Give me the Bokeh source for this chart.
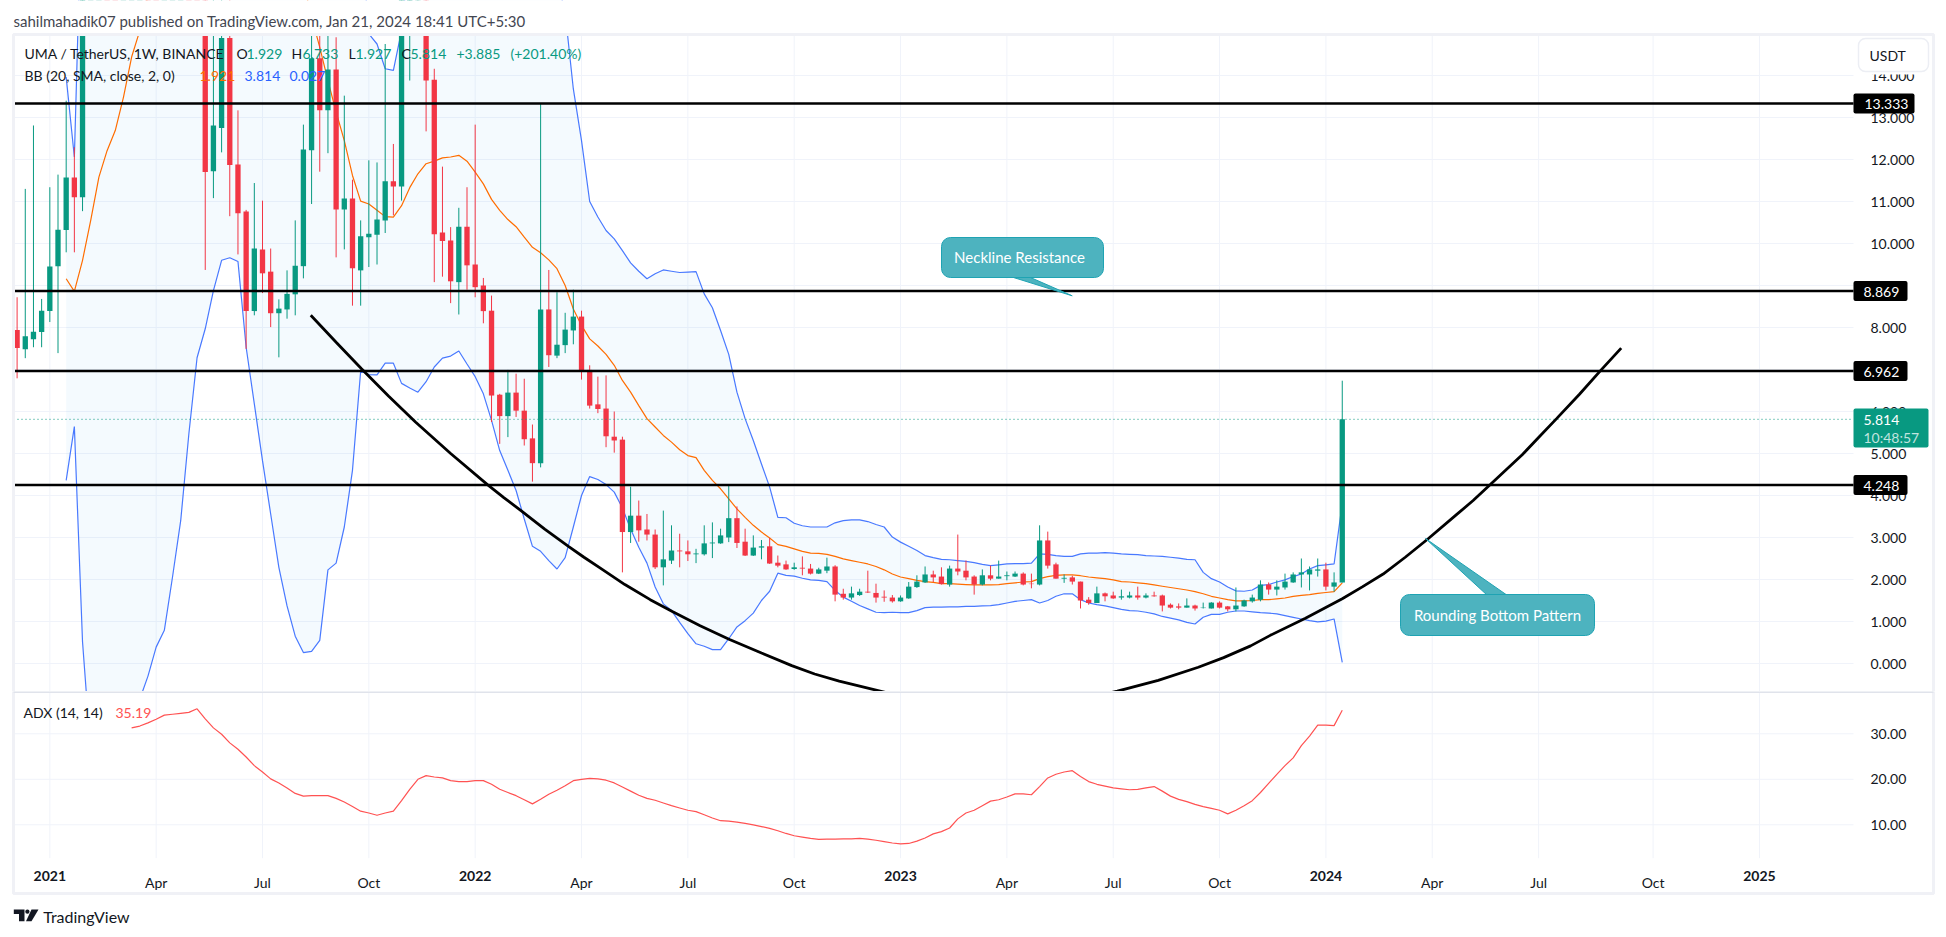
from bokeh.embed import file_html
from bokeh.layouts import column
from bokeh.models import (BoxAnnotation, ColumnDataSource, FixedTicker, Label,
                          NumeralTickFormatter, PolyAnnotation, Range1d)
from bokeh.plotting import figure
from bokeh.resources import INLINE

# weekly candles, index 0 = Dec 2020, last = Jan 15 2024. 9-22 run far above the visible pane
opens = [7.94,7.48,7.72,7.89,8.39,9.46,10.32,11.57,11.10,19.0,
    23.5,27.0,24.6,21.5,23.8,26.2,28.4,25.9,22.3,24.1,
    27.5,29.6,26.4,22.1,11.72,12.75,14.89,11.88,10.76,8.39,
    9.86,9.33,8.34,8.43,8.79,9.46,12.22,14.41,13.17,14.14,
    10.81,11.07,9.36,10.15,10.21,10.55,11.48,11.36,15.5,17.0,
    17.5,13.90,10.26,10.07,9.08,10.40,9.50,9.00,8.40,6.40,
    5.89,6.45,6.02,5.36,4.77,8.43,7.33,7.58,7.93,8.26,
    6.99,6.17,6.07,5.40,5.33,3.13,3.52,3.19,3.07,2.29,
    2.45,2.69,2.67,2.60,2.60,2.86,2.86,3.00,3.46,2.90,
    2.57,2.76,2.79,2.40,2.36,2.25,2.28,2.26,2.14,2.21,
    2.31,1.66,1.57,1.63,1.71,1.68,1.59,1.57,1.48,1.55,
    1.82,1.93,2.12,2.07,1.88,2.26,2.21,2.07,1.88,2.10,
    2.02,2.08,2.07,2.14,1.90,1.88,2.93,2.36,2.02,2.05,
    1.95,1.52,1.44,1.67,1.62,1.57,1.57,1.62,1.57,1.62,
    1.62,1.40,1.36,1.33,1.38,1.32,1.31,1.45,1.36,1.29,
    1.36,1.48,1.52,1.88,1.76,1.81,1.93,2.12,2.12,2.21,
    2.24,1.83,1.929]
closes = [7.51,7.79,7.90,8.40,9.45,10.33,11.57,11.10,19.0,23.5,
    27.0,24.6,21.5,23.8,26.2,28.4,25.9,22.3,24.1,27.5,
    29.6,26.4,22.1,11.70,12.81,14.89,11.87,10.72,8.39,9.88,
    9.29,8.34,8.45,8.80,9.47,12.24,14.41,13.17,14.14,10.81,
    11.07,9.41,10.17,10.23,10.57,11.48,11.36,17.0,17.0,18.0,
    13.88,10.22,10.06,9.10,10.40,9.48,8.96,8.39,6.38,5.89,
    6.45,6.02,5.34,4.77,8.43,7.34,7.59,7.95,8.26,6.98,
    6.14,6.06,5.41,5.31,3.13,3.52,3.17,3.07,2.29,2.48,
    2.69,2.67,2.60,2.62,2.86,2.88,3.05,3.46,2.87,2.57,
    2.76,2.79,2.38,2.33,2.24,2.29,2.26,2.14,2.24,2.31,
    1.64,1.57,1.67,1.71,1.69,1.57,1.57,1.48,1.57,1.83,
    1.95,2.12,2.05,1.89,2.26,2.19,2.05,1.88,2.10,2.02,
    2.07,2.10,2.14,1.88,1.89,2.93,2.33,2.02,2.04,1.95,
    1.50,1.44,1.67,1.60,1.55,1.60,1.62,1.57,1.62,1.60,
    1.38,1.33,1.33,1.38,1.31,1.33,1.45,1.33,1.29,1.38,
    1.50,1.57,1.88,1.76,1.83,1.95,2.12,2.17,2.24,2.24,
    1.83,1.93,5.814]
highs = [8.72,11.30,12.81,8.68,11.34,11.64,13.40,12.29,21.5,25.0,
    28.5,28.6,25.8,25.0,27.5,30.0,29.5,26.8,25.5,28.8,
    31.0,30.5,27.5,23.5,16.0,16.5,16.0,13.17,10.80,11.44,
    11.02,9.88,8.67,9.36,10.55,12.83,15.5,15.5,15.3,14.91,
    13.52,11.52,10.55,11.98,11.93,14.75,12.37,19.0,18.0,19.0,
    18.0,14.16,11.83,10.39,10.85,11.34,12.83,9.18,8.76,6.42,
    6.99,6.90,6.78,5.69,13.33,9.37,8.84,8.35,8.90,8.40,
    7.10,6.83,6.86,6.00,5.40,4.21,3.88,3.56,3.19,3.64,
    3.29,3.09,2.93,2.73,3.29,3.36,3.21,4.24,3.74,3.21,
    3.05,2.94,2.99,2.57,2.45,2.40,2.55,2.37,2.28,2.52,
    2.34,1.78,1.83,1.78,2.21,1.90,1.74,1.63,1.62,1.94,
    2.10,2.31,2.21,2.29,2.33,3.07,2.45,2.10,2.24,2.33,
    2.45,2.19,2.19,2.17,2.14,3.29,3.14,2.40,2.12,2.09,
    1.95,1.58,1.83,1.69,1.71,1.76,1.71,1.83,1.67,1.71,
    1.64,1.43,1.43,1.55,1.40,1.45,1.46,1.48,1.37,1.81,
    1.52,1.64,1.98,1.93,1.98,2.14,2.17,2.50,2.31,2.50,
    2.40,2.17,6.733]
lows = [6.79,7.27,7.53,7.53,8.13,7.39,9.79,9.79,10.77,18.0,
    22.0,23.1,20.0,20.2,22.5,25.0,24.5,20.8,21.0,23.0,
    26.5,25.0,20.5,9.37,11.08,12.17,10.65,9.74,7.49,8.29,
    8.82,8.01,7.29,8.21,8.29,9.17,10.94,11.71,12.15,9.67,
    9.86,8.52,8.52,9.44,9.50,10.25,10.67,11.02,13.88,15.6,
    12.67,9.08,9.21,8.58,8.31,8.90,8.72,8.10,5.75,5.23,
    5.39,5.87,5.19,4.33,4.67,7.06,7.27,7.39,7.60,6.76,
    6.07,5.96,5.15,5.02,2.17,2.87,2.90,2.93,2.25,1.86,
    2.37,2.29,2.44,2.39,2.57,2.51,2.85,2.89,2.75,2.56,
    2.56,2.48,2.37,2.29,2.23,2.23,2.10,2.12,2.13,2.15,
    1.48,1.52,1.52,1.61,1.68,1.45,1.47,1.45,1.47,1.54,
    1.80,1.92,1.94,1.88,1.83,2.10,1.98,1.64,1.86,1.98,
    2.02,1.98,2.06,1.86,1.79,1.86,2.26,2.02,1.92,1.88,
    1.31,1.40,1.44,1.48,1.54,1.52,1.55,1.52,1.55,1.59,
    1.24,1.31,1.29,1.33,1.26,1.31,1.31,1.31,1.24,1.24,
    1.35,1.45,1.48,1.64,1.62,1.76,1.92,1.81,1.74,2.07,
    1.74,1.71,1.927]

# bollinger bands, from bar 6 on
bb_upper = [13.96,12.06,19.0,22.0,25.0,27.0,29.0,31.0,32.5,33.5,
    34.0,34.5,35.0,35.0,34.5,34.0,33.5,33.0,32.5,32.0,
    31.5,31.0,30.5,30.0,29.0,28.0,27.5,27.0,26.5,26.0,
    25.5,25.0,24.0,23.0,22.0,20.0,17.5,14.99,14.75,14.16,
    14.12,15.07,17.0,18.0,18.5,19.0,19.2,19.5,19.6,19.6,
    19.5,19.3,19.0,18.8,18.5,18.2,18.0,17.8,17.5,17.0,
    16.3,15.5,13.68,12.45,11.0,10.63,10.31,10.11,9.83,9.54,
    9.34,9.16,9.28,9.37,9.34,9.31,9.32,9.33,8.80,8.47,
    7.93,7.36,6.46,5.83,5.31,4.75,4.20,3.48,3.47,3.34,
    3.28,3.25,3.25,3.25,3.35,3.40,3.42,3.42,3.38,3.31,
    3.25,3.01,2.89,2.79,2.69,2.57,2.52,2.48,2.47,2.45,
    2.43,2.40,2.36,2.33,2.35,2.37,2.38,2.38,2.39,2.61,
    2.60,2.57,2.55,2.55,2.61,2.63,2.63,2.64,2.63,2.61,
    2.60,2.59,2.57,2.56,2.55,2.53,2.51,2.48,2.47,2.17,
    2.02,1.94,1.82,1.73,1.72,1.75,1.86,1.88,1.94,1.99,
    2.07,2.13,2.25,2.33,2.35,2.37,3.814]
bb_basis = [9.16,8.86,9.60,10.55,11.58,12.21,12.69,13.48,14.44,15.07,
    15.9,16.8,17.6,18.4,19.1,19.7,20.2,20.6,20.9,21.1,
    21.2,21.1,20.8,20.3,19.7,19.0,18.3,17.6,16.9,16.2,
    15.4,14.67,13.88,13.13,12.45,11.62,11.01,10.94,10.79,10.64,
    10.63,10.90,11.33,11.66,11.90,11.96,12.04,12.06,12.10,11.96,
    11.70,11.42,11.05,10.79,10.57,10.40,10.15,9.91,9.78,9.61,
    9.40,9.00,8.44,8.05,7.73,7.56,7.36,7.10,6.74,6.46,
    6.14,5.83,5.63,5.43,5.27,5.09,4.95,4.90,4.60,4.36,
    4.16,3.92,3.68,3.48,3.29,3.13,2.99,2.83,2.79,2.73,
    2.67,2.63,2.62,2.60,2.55,2.49,2.45,2.41,2.37,2.31,
    2.23,2.13,2.06,2.02,1.98,1.95,1.93,1.90,1.90,1.89,
    1.88,1.87,1.87,1.87,1.88,1.90,1.92,1.94,1.95,2.02,
    2.07,2.10,2.11,2.11,2.09,2.06,2.04,2.02,1.99,1.95,
    1.94,1.92,1.90,1.87,1.84,1.81,1.78,1.75,1.71,1.66,
    1.60,1.56,1.52,1.49,1.49,1.50,1.52,1.52,1.54,1.56,
    1.60,1.62,1.64,1.67,1.69,1.71,1.921]
bb_lower = [4.36,5.64,0.51,-2.1,-4.5,-6.0,-7.0,-6.5,-4.0,-0.85,
    -0.30,0.39,0.79,2.06,3.40,5.47,7.28,7.97,8.88,9.60,
    9.66,9.57,7.53,6.18,4.83,3.56,2.29,1.37,0.65,0.26,
    0.29,0.55,2.23,2.39,3.25,4.60,6.96,6.88,6.87,7.15,
    7.15,6.67,6.56,6.46,6.71,7.06,7.27,7.32,7.44,7.13,
    6.83,6.42,5.79,5.07,4.60,4.12,3.44,2.79,2.67,2.45,
    2.25,2.52,3.25,4.00,4.45,4.38,4.26,4.08,3.70,3.20,
    2.77,2.39,1.82,1.42,1.26,0.98,0.71,0.47,0.41,0.33,
    0.33,0.59,0.87,1.02,1.20,1.50,1.72,2.15,2.10,2.08,
    2.03,1.99,1.98,1.95,1.74,1.58,1.48,1.38,1.30,1.22,
    1.21,1.22,1.21,1.21,1.26,1.33,1.34,1.34,1.35,1.35,
    1.36,1.36,1.37,1.38,1.40,1.44,1.48,1.50,1.52,1.44,
    1.50,1.60,1.66,1.66,1.52,1.44,1.40,1.37,1.33,1.29,
    1.26,1.25,1.22,1.18,1.12,1.08,1.04,0.98,0.94,1.10,
    1.17,1.17,1.22,1.25,1.25,1.23,1.21,1.20,1.18,1.14,
    1.10,1.06,1.02,0.99,1.01,1.06,0.027]

# adx, from bar 14 on
adx = [31.3,31.7,32.4,33.2,34.1,34.3,34.5,34.7,35.5,33.3,31.3,29.9,28.0,26.6,24.9,23.0,
    21.6,20.1,19.2,18.1,16.9,16.3,16.4,16.4,16.4,15.8,15.0,14.0,13.0,12.6,12.1,12.6,
    13.0,15.3,17.8,20.0,20.8,20.5,20.3,19.7,19.5,19.5,19.7,19.7,18.9,17.8,17.1,16.4,
    15.5,14.6,15.6,16.7,17.6,18.6,19.7,20.0,20.2,20.1,19.8,19.2,18.3,17.4,16.5,15.8,
    15.4,14.8,14.2,13.7,13.2,12.9,12.2,11.5,10.9,10.8,10.6,10.3,10.0,9.6,9.2,8.7,
    8.1,7.6,7.3,7.0,6.8,6.85,6.85,6.9,6.9,7.0,6.85,6.6,6.3,6.0,5.8,5.9,
    6.4,7.1,8.0,8.5,9.3,11.3,12.6,13.2,14.2,15.2,15.5,16.1,16.8,16.8,16.6,18.4,
    20.3,21.1,21.6,21.9,20.6,19.5,18.9,18.5,18.1,17.9,17.7,17.8,18.1,18.4,17.4,16.3,
    15.6,15.1,14.5,14.0,13.6,13.2,12.4,13.2,14.2,15.3,17.1,19.1,21.1,23.0,24.7,27.4,
    29.5,31.9,31.9,31.8,35.19]

# rounding bottom drawing, bar index and price
arc_bar = [35.9,39,42.1,45.4,48.7,53,57.5,59.5,61.6,64.5,67.4,69.3,71.3,74.3,77.4,80.1,83.5,87.1,91,94.7,97.5,
    100.5,106.4,113,120,127,134.5,139.5,144.4,147.5,150.8,153.2,157.5,162,164.5,167,169.7,172.5,176,178,180.1,
    184,186,188.2,191,193.6,196.1]
arc_price = [8.29,7.65,7.02,6.37,5.75,5.00,4.26,3.95,3.64,3.20,2.79,2.53,2.27,1.88,1.52,1.24,0.90,0.57,0.25,-0.05,-0.25,
    -0.42,-0.70,-0.98,-1.10,-0.98,-0.66,-0.40,-0.09,0.14,0.42,0.67,1.08,1.54,1.83,2.13,2.53,2.97,3.55,3.88,4.26,
    4.97,5.38,5.83,6.41,6.98,7.51]

levels = [13.333, 8.869, 6.962, 4.248]
level_names = ["13.333", "8.869", "6.962", "4.248"]
last_price = 5.814

price_ticks = [0, 1, 2, 3, 4, 5, 6, 7, 8, 9, 10, 11, 12, 13, 14]
adx_ticks = [10, 20, 30]
month_ticks = [17, 30, 43, 69, 82, 95, 121, 134, 147, 173, 186, 200]
month_names = ["Apr", "Jul", "Oct", "Apr", "Jul", "Oct", "Apr", "Jul", "Oct", "Apr", "Jul", "Oct"]
year_ticks = [4, 56, 108, 160, 213]
year_names = ["2021", "2022", "2023", "2024", "2025"]

GREEN = "#089981"
RED = "#f23645"
BLUE = "#2962ff"
ORANGE = "#ff6d00"
TEAL = "#4db3bf"
TEXT = "#131722"
GRID = "#f0f3fa"
FONT = "Lato"
LEFT, RIGHT = 13, 1853
TOP, DIVIDE, BOTTOM = 34, 691, 857.7


# page pixel -> data, both frames fill their whole canvas
def bx(px):
    return (px - 16.6) / 8.18


def py(y):
    return (663 - y) / 42


def ay(y):
    return 10 + (824.3 - y) / 4.55


bars = list(range(len(opens)))
colors = [GREEN if c >= o else RED for o, c in zip(opens, closes)]
candles = ColumnDataSource(dict(x=bars, o=opens, c=closes, h=highs, l=lows, color=colors))
x_range = Range1d(bx(0), bx(1940))

p = figure(width=1940, height=691, x_range=x_range, y_range=Range1d(py(691), py(0)),
           x_axis_location=None, y_axis_location="right", output_backend="svg", toolbar_location=None,
           min_border=0, outline_line_color=None)
a = figure(width=1940, height=238, x_range=x_range, y_range=Range1d(ay(929), ay(691)),
           y_axis_location="right", output_backend="svg", toolbar_location=None,
           min_border=0, outline_line_color=None)

all_ticks = sorted(month_ticks + year_ticks)
for fig, yt, yf, y0, y1 in ((p, price_ticks, py, DIVIDE, TOP), (a, adx_ticks, ay, BOTTOM, DIVIDE)):
    fig.grid.visible = False
    fig.segment(all_ticks, yf(y0), all_ticks, yf(y1), line_color=GRID, line_width=1, level="underlay")
    fig.segment(bx(LEFT), yt, bx(RIGHT), yt, line_color=GRID, line_width=1, level="underlay")
    fig.yaxis.fixed_location = bx(RIGHT)
    fig.yaxis.ticker = FixedTicker(ticks=yt)
    fig.yaxis.axis_line_color = None
    fig.yaxis.major_tick_line_color = None
    fig.yaxis.minor_tick_line_color = None
    fig.yaxis.major_label_text_font = FONT
    fig.yaxis.major_label_text_font_size = "14px"
    fig.yaxis.major_label_text_color = TEXT
    fig.yaxis.major_label_standoff = 11

p.yaxis.formatter = NumeralTickFormatter(format="0.000")
a.yaxis.formatter = NumeralTickFormatter(format="0.00")

a.xaxis.fixed_location = ay(BOTTOM)
a.xaxis.ticker = FixedTicker(ticks=all_ticks)
a.xaxis.major_label_overrides = {**dict(zip(month_ticks, month_names)), **{t: "" for t in year_ticks}}
a.xaxis.axis_line_color = None
a.xaxis.major_tick_line_color = None
a.xaxis.minor_tick_line_color = None
a.xaxis.major_label_text_font = FONT
a.xaxis.major_label_text_font_size = "14px"
a.xaxis.major_label_text_color = TEXT
a.xaxis.major_label_standoff = 10

# bands and candles
band_x = bars[-len(bb_upper):]
p.varea(band_x, bb_lower, bb_upper, fill_color="#2196f3", fill_alpha=0.05)
p.line(band_x, bb_upper, line_color=BLUE, line_width=1.2, line_alpha=0.85)
p.line(band_x, bb_lower, line_color=BLUE, line_width=1.2, line_alpha=0.85)
p.line(band_x, bb_basis, line_color=ORANGE, line_width=1.2)
p.segment("x", "h", "x", "l", color="color", line_width=1, source=candles)
p.vbar("x", 0.65, "o", "c", fill_color="color", line_color=None, source=candles)

# candles above the pane stop at its top edge
p.quad(left=bx(-20), right=bx(1960), top=py(-20), bottom=py(TOP), fill_color="white", line_color=None)

p.segment(bx(LEFT), levels, bx(RIGHT), levels, line_color="black", line_width=2.5)
p.segment(bx(LEFT), last_price, bx(RIGHT), last_price, line_color=GREEN, line_width=1, line_dash="1 3")
p.line(arc_bar, arc_price, line_color="black", line_width=2.8)

# callout tails
p.patch([bx(1013), bx(1030), bx(1071.7)], [py(277), py(277), py(295.3)],
        fill_color=TEAL, line_color="#1fa3b3", line_width=1)
p.patch([bx(1487), bx(1507), bx(1425)], [py(595), py(595), py(538)],
        fill_color=TEAL, line_color="#1fa3b3", line_width=1)


def box(fig, left, right, top, bottom, yf, fill, alpha=1, line=None, lw=1, radius=0):
    fig.add_layout(BoxAnnotation(left=bx(left), right=bx(right), top=yf(top), bottom=yf(bottom),
                                 fill_color=fill, fill_alpha=alpha, line_color=line, line_width=lw,
                                 line_alpha=1 if line else 0, border_radius=radius))


def text(fig, px, y, yf, s, color=TEXT, size=14, style="normal", align="left", alpha=1):
    fig.add_layout(Label(x=bx(px), y=yf(y), text=s, text_color=color, text_font=FONT, text_alpha=alpha,
                         text_font_size=f"{size}px", text_font_style=style, text_align=align,
                         text_baseline="middle"))


box(p, 941, 1103, 237, 277, py, TEAL, line="#1fa3b3", radius=9)
text(p, 1019, 256, py, "Neckline Resistance", color="white", size=15, align="center")
box(p, 1400, 1594, 594, 635, py, TEAL, line="#1fa3b3", radius=9)
text(p, 1497, 614, py, "Rounding Bottom Pattern", color="white", size=15, align="center")

# frame around the panes
box(p, 13, 1933, 34, 695, py, "white", alpha=0, line="#f0f1f6", lw=3)
box(a, 13, 1933, 685, 893, ay, "white", alpha=0, line="#f0f1f6", lw=3)
box(a, 13, 1933, 690, 692.5, ay, "#e0e3eb")

# scale labels
box(p, 1856, 1930, 36, 74, py, "white")
box(p, 1858, 1928, 38, 71, py, "white", line="#eceef4", lw=1.5, radius=7)
text(p, 1869, 55, py, "USDT")
for lv, name in zip(levels, level_names):
    y = 663 - lv * 42
    w = 61 if len(name) > 5 else 54
    box(p, 1853, 1853 + w, y - 10, y + 10, py, "black", radius=2)
    text(p, 1864 if len(name) > 5 else 1863, y + 0.5, py, name, color="white")
box(p, 1853, 1928, 408, 447, py, GREEN, radius=2)
text(p, 1863, 419, py, "5.814", color="white")
text(p, 1863, 437, py, "10:48:57", color="white", alpha=0.75)

# header and legends
text(p, 13, 20, py, "sahilmahadik07 published on TradingView.com, Jan 21, 2024 18:41 UTC+5:30", color="#434651", size=15)
text(p, 24, 53, py, "UMA / TetherUS, 1W, BINANCE")
for px, s, col in [(236, "O", TEXT), (246, "1.929", GREEN), (291, "H", TEXT), (302, "6.733", GREEN),
                   (348, "L", TEXT), (355, "1.927", GREEN), (401, "C", TEXT), (410, "5.814", GREEN),
                   (456, "+3.885", GREEN), (510, "(+201.40%)", GREEN)]:
    text(p, px, 53, py, s, color=col)
text(p, 24, 75, py, "BB (20, SMA, close, 2, 0)")
text(p, 199, 75, py, "1.921", color=ORANGE)
text(p, 244, 75, py, "3.814", color=BLUE)
text(p, 289, 75, py, "0.027", color=BLUE)

# adx pane
a.line(bars[-len(adx):], adx, line_color="#ff5252", line_width=1.2)
text(a, 23, 712, ay, "ADX (14, 14)")
text(a, 115, 712, ay, "35.19", color="#ff5252")
for t, name in zip(year_ticks, year_names):
    a.add_layout(Label(x=t, y=ay(875.5), text=name, text_color=TEXT, text_font=FONT, text_font_size="14px",
                       text_font_style="bold", text_align="center", text_baseline="middle"))

# TradingView mark
a.add_layout(PolyAnnotation(xs=[bx(v) for v in (13.3, 24, 24, 18.5, 18.5, 13.3)],
                            ys=[ay(v) for v in (909, 909, 920.7, 920.7, 913.5, 913.5)],
                            fill_color=TEXT, fill_alpha=1, line_color=None))
a.add_layout(PolyAnnotation(xs=[bx(v) for v in (31, 38, 31, 25.5)],
                            ys=[ay(v) for v in (909, 909, 920.7, 920.7)],
                            fill_color=TEXT, fill_alpha=1, line_color=None))
box(a, 24.8, 29, 909, 913.2, ay, TEXT, radius=2)
text(a, 42.7, 915.5, ay, "TradingView", size=16)

page = column(p, a, spacing=0)
open("out.html", "w").write(file_html(page, INLINE))
